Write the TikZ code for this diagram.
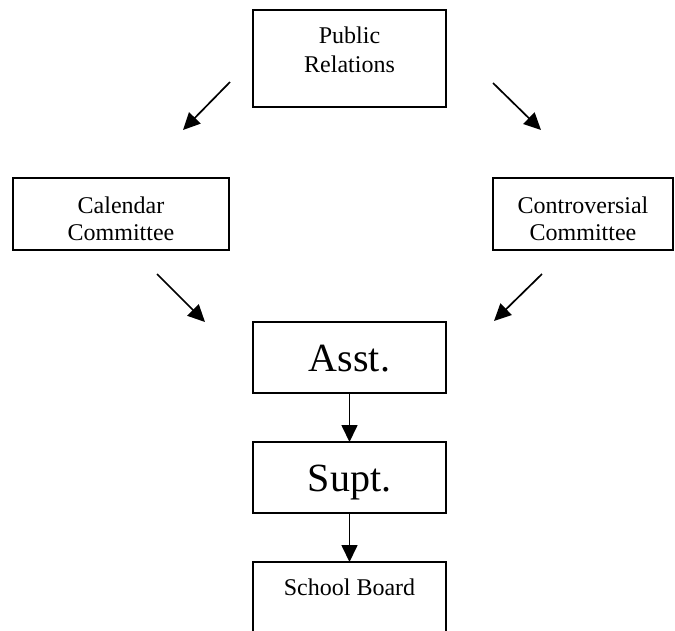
\documentclass[tikz,border=0pt]{standalone}
\usepackage{fontspec}
\setmainfont{Liberation Serif}
\usetikzlibrary{arrows.meta, positioning}
\newcommand{\orglines}[3]{\raisebox{#1}[0pt][0pt]{\begin{tabular}[t]{@{}c@{}}#2\\#3\end{tabular}}}
\tikzset{every org node/.style={draw,line width=1.6pt,inner sep=0pt,outer sep=0pt,align=center,font=\fontsize{24}{27}\selectfont}}
\tikzset{big org node/.style={every org node,minimum width=193pt,minimum height=71pt,text height=27pt,text depth=0pt,font=\fontsize{40}{44}\selectfont}}
\tikzset{flow/.style={->,line width=1.7pt}}

\begin{document}
\begin{tikzpicture}[x=1pt,y=-1pt,>={Triangle[length=17pt,width=16pt]}]
    \path[use as bounding box,clip] (0,0) rectangle (675,630);

    \node[every org node,minimum width=193pt,minimum height=97pt,font=\fontsize{24}{29}\selectfont] (PR) at (349.5,58.5)
        {\orglines{15.5pt}{Public}{Relations}};
    \node[every org node,minimum width=216pt,minimum height=72pt] (Cal) at (121,214) {\orglines{1pt}{Calendar}{Committee}};
    \node[every org node,minimum width=180pt,minimum height=72pt] (Con) at (583,214) {\orglines{1pt}{Controversial}{Committee}};
    \node[big org node] (Asst) at (349.5,357.5) {Asst.};
    \node[big org node,below=49pt of Asst] (Supt) {Supt.};
    \node[every org node,below=49pt of Supt,minimum width=193pt,inner ysep=16pt,text height=17pt,text depth=60pt] (Board) {School Board};

    \coordinate (PRleft) at (230,82);
    \coordinate (CalIn) at (183,130);
    \coordinate (PRright) at (493,83);
    \coordinate (ConIn) at (541,130);
    \coordinate (CalOut) at (157,274);
    \coordinate (AsstL) at (205,322);
    \coordinate (ConOut) at (542,274);
    \coordinate (AsstR) at (494,321);

    \draw[flow] (PRleft) -- (CalIn);
    \draw[flow] (PRright) -- (ConIn);
    \draw[flow] (CalOut) -- (AsstL);
    \draw[flow] (ConOut) -- (AsstR);
    \draw[flow] (Asst) -- (Supt);
    \draw[flow] (Supt) -- (Board);
\end{tikzpicture}
\end{document}
